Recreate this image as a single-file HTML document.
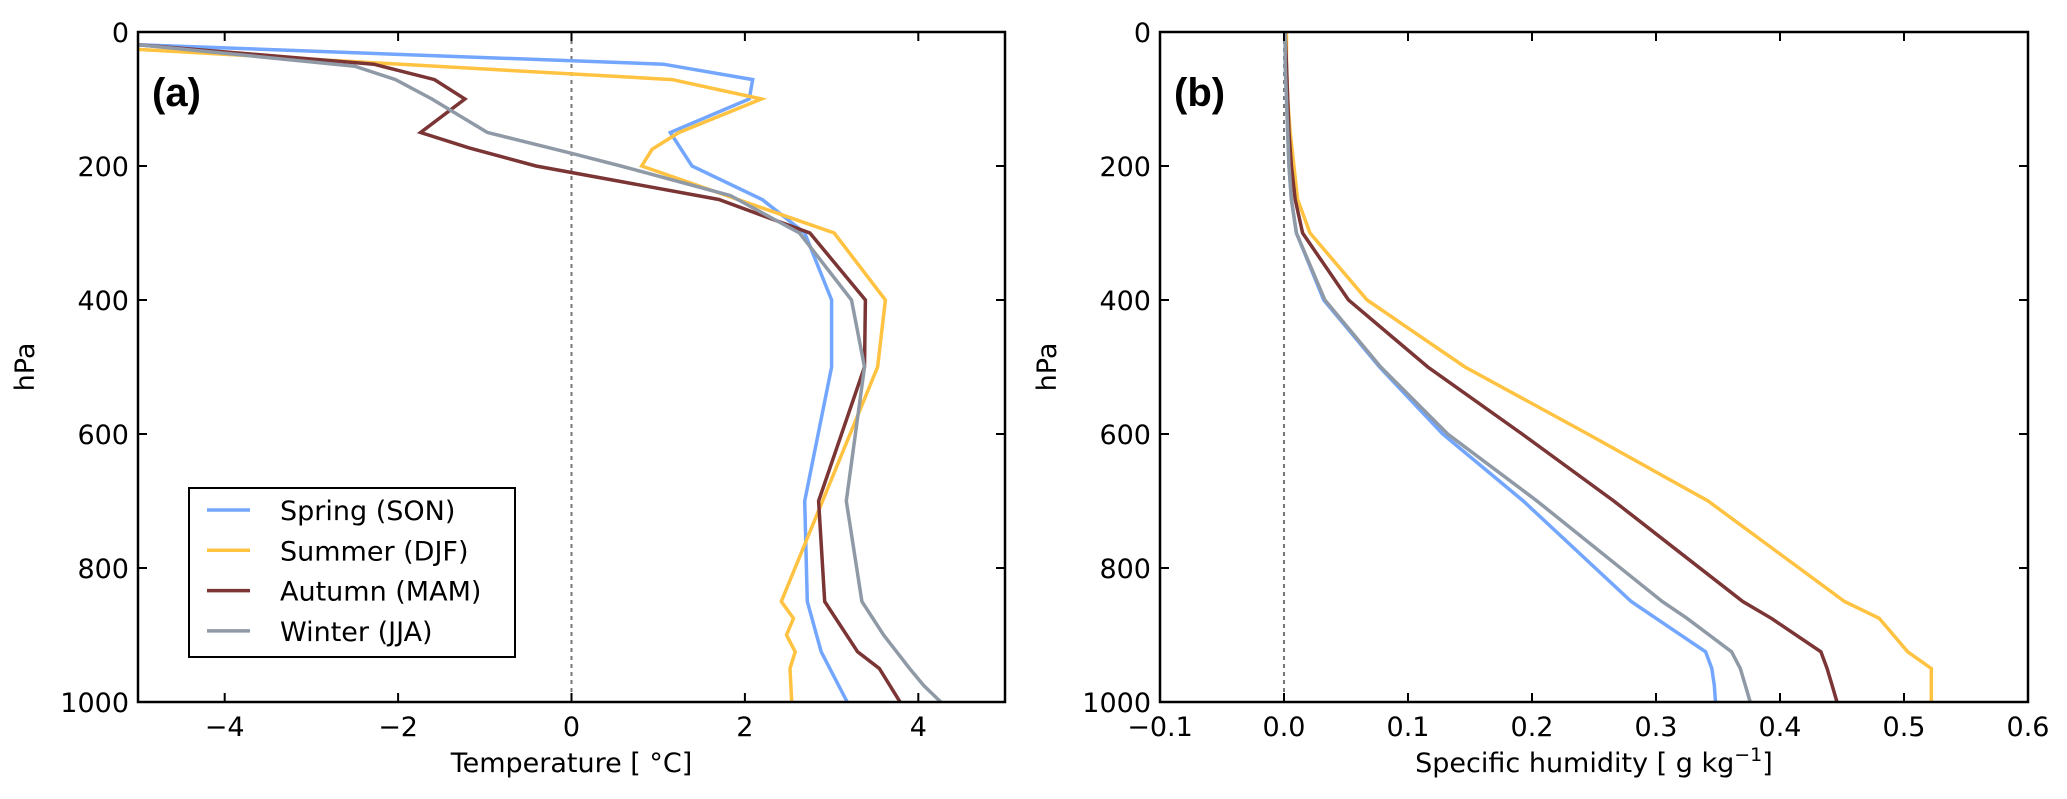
<!DOCTYPE html>
<html><head><meta charset="utf-8"><style>
html,body{margin:0;padding:0;background:#fff}
svg{display:block;font-family:"DejaVu Sans","Liberation Sans",sans-serif}
</style></head><body>
<svg id="fig" width="2067" height="799" viewBox="0 0 2067 799" xmlns="http://www.w3.org/2000/svg"></svg>
<script>
// ---- data ----
const seriesNames = ["Spring (SON)","Summer (DJF)","Autumn (MAM)","Winter (JJA)"];
const seriesColors = ["#73a6ff","#ffc241","#7b3535","#8f9aa6"];
// panel (a): temperature profiles
const springP = [19,48,71,100,150,200,250,300,400,500,700,850,925,1000];
const springT = [-5,1.06,2.09,2.05,1.14,1.39,2.2,2.69,3.0,3.0,2.69,2.72,2.88,3.18];
const summerP = [26,71,100,150,175,200,300,400,500,850,875,900,925,950,1000];
const summerT = [-5,1.16,2.19,1.24,0.93,0.81,3.03,3.62,3.53,2.42,2.56,2.48,2.58,2.52,2.54];
const autumnP = [19,48,71,100,150,173,200,250,300,400,500,700,850,925,950,1000];
const autumnT = [-5,-2.28,-1.58,-1.23,-1.74,-1.18,-0.41,1.7,2.75,3.39,3.38,2.85,2.92,3.3,3.55,3.79];
const winterP = [19,51,71,100,150,181,200,244,300,400,500,700,850,900,950,975,1000];
const winterT = [-5,-2.5,-2.03,-1.61,-0.97,0,0.57,1.83,2.63,3.23,3.38,3.17,3.35,3.6,3.9,4.06,4.26];
// panel (b): specific humidity profiles
const qP = [0,50,100,150,200,250,300,400,500,600,700,850,875,925,950,975,1000];
const springQ = [0.001,0.001,0.002,0.003,0.004,0.006,0.01,0.032,0.077,0.128,0.193,0.28,0.3,0.34,0.345,0.347,0.348];
const summerQ = [0.002,0.002,0.003,0.005,0.008,0.011,0.021,0.067,0.146,0.245,0.342,0.452,0.48,0.503,0.522,0.522,0.522];
const autumnQ = [0.001,0.002,0.003,0.004,0.006,0.009,0.015,0.052,0.116,0.192,0.266,0.37,0.393,0.433,0.438,0.442,0.446];
const winterQ = [0.001,0.001,0.002,0.003,0.004,0.006,0.01,0.033,0.078,0.132,0.204,0.305,0.325,0.361,0.368,0.372,0.376];
const tTicks = [-4,-2,0,2,4];
const qTicks = [-0.1,0.0,0.1,0.2,0.3,0.4,0.5,0.6];
const pTicks = [0,200,400,600,800,1000];

// ---- axes ----
const NS="http://www.w3.org/2000/svg";
const svg=document.getElementById('fig');
const top_=32, bot=702;
const yP = p => top_ + (p/1000)*(bot-top_);
const aL=138, aR=1005, bL=1160, bR=2028;
const xT = t => aL + (t+5)/10*(aR-aL);
const xQ = q => bL + (q+0.1)/0.7*(bR-bL);
function el(tag,attrs,parent){const e=document.createElementNS(NS,tag);for(const k in attrs)e.setAttribute(k,attrs[k]);(parent||svg).appendChild(e);return e;}
function txt(s,attrs,parent){const e=el('text',attrs,parent);e.textContent=s;return e;}

function panel(id,L,R,xf,xticks,fmt,xlabelParts,letter,series){
  const g=el('g',{});
  
  
  const z=el('line',{x1:xf(0),x2:xf(0),y1:top_,y2:bot,stroke:'#777','stroke-width':2,'stroke-dasharray':'4,4'},g);
  
  
  series.forEach((s,i)=>{
    const pts=s.x.map((v,j)=>xf(v).toFixed(1)+','+yP(s.p[j]).toFixed(1)).join(' ');
    const pl=el('polyline',{points:pts,fill:'none',stroke:seriesColors[i],'stroke-width':3.5,'stroke-linejoin':'miter'},g);
    
    
  });
  const fr=el('rect',{x:L,y:top_,width:R-L,height:bot-top_,fill:'none',stroke:'#000','stroke-width':2.5},g);
  
  
  xticks.forEach(t=>{
    const x=xf(t);
    el('line',{x1:x,x2:x,y1:bot,y2:bot-9,stroke:'#000','stroke-width':2},g);
    el('line',{x1:x,x2:x,y1:top_,y2:top_+9,stroke:'#000','stroke-width':2},g);
    const lab=txt(fmt(t),{x:x,y:bot+34,'font-size':27,'text-anchor':'middle'},g);
    
    
  });
  pTicks.forEach(p=>{
    const y=yP(p);
    el('line',{x1:L,x2:L+9,y1:y,y2:y,stroke:'#000','stroke-width':2},g);
    el('line',{x1:R,x2:R-9,y1:y,y2:y,stroke:'#000','stroke-width':2},g);
    const lab=txt(String(p),{x:L-9,y:y+10,'font-size':27,'text-anchor':'end'},g);
    
    
  });
  const yl=txt('hPa',{x:0,y:0,'font-size':27,'text-anchor':'middle',transform:`translate(${L-104},${(top_+bot)/2}) rotate(-90)`},g);
  
  
  const xl=el('text',{x:(L+R)/2,y:772,'font-size':27,'text-anchor':'middle'},g);
  xl.innerHTML=xlabelParts;
  
  
  const pl=txt(letter,{x:L+14,y:106,'font-size':40,'font-weight':'bold','font-family':'"Liberation Sans",sans-serif'},g);
  
  
}
const minus=s=>s.replace('-','\u2212');
panel('temperature-panel',aL,aR,xT,tTicks,t=>minus(String(t)),'Temperature [ °C]','(a)',
  [{x:springT,p:springP},{x:summerT,p:summerP},{x:autumnT,p:autumnP},{x:winterT,p:winterP}]);
panel('humidity-panel',bL,bR,xQ,qTicks,t=>minus(t.toFixed(1)),'Specific humidity [ g kg<tspan dy="-11" font-size="19">\u22121</tspan><tspan dy="11">]</tspan>','(b)',
  [{x:springQ,p:qP},{x:summerQ,p:qP},{x:autumnQ,p:qP},{x:winterQ,p:qP}]);

// legend
const lg=el('g',{});


el('rect',{x:189,y:488,width:326,height:169,fill:'#fff',stroke:'#000','stroke-width':2},lg);
seriesNames.forEach((n,i)=>{
  const y=510+i*40.3;
  const ln=el('line',{x1:207,x2:250,y1:y,y2:y,stroke:seriesColors[i],'stroke-width':3.5},lg);
  
  
  const t=txt(n,{x:280,y:y+10,'font-size':27},lg);
  
  
});
</script>
</body></html>
